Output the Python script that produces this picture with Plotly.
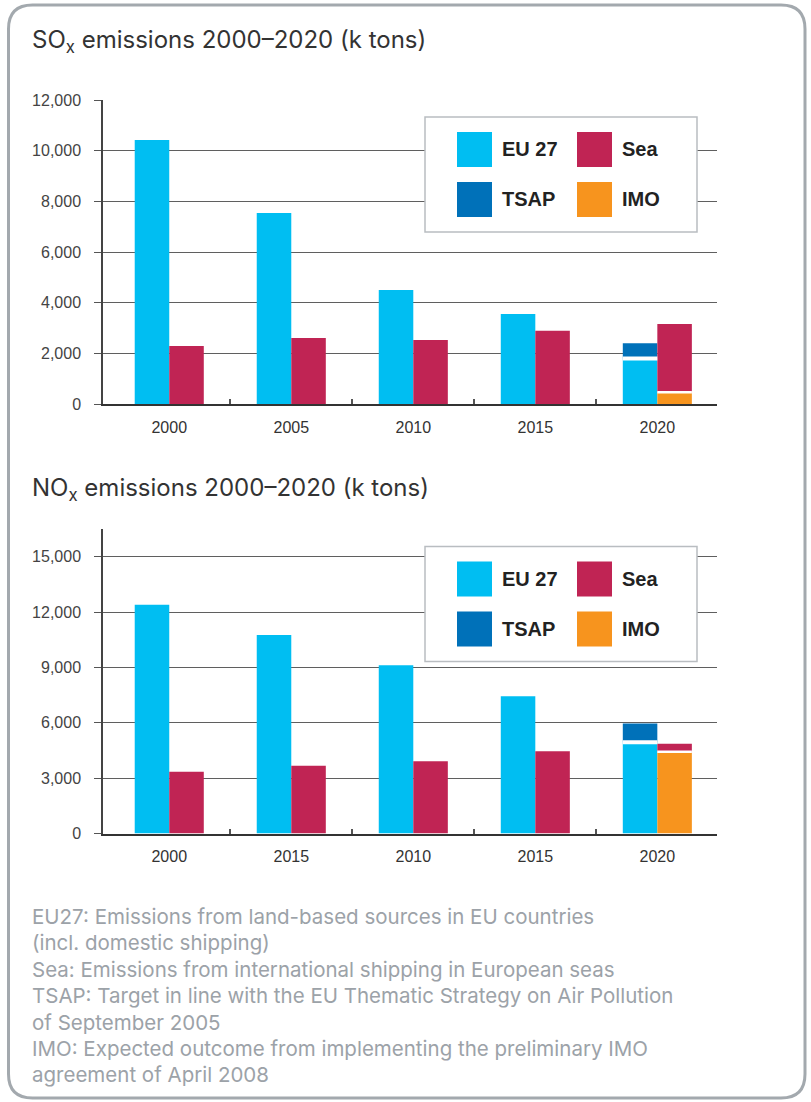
import plotly.graph_objects as go

# ---------------- data ----------------
sox_years = ["2000", "2005", "2010", "2015", "2020"]
sox_eu27 = [10420, 7540, 4500, 3550, 1800]
sox_sea = [2290, 2605, 2530, 2890, 3160]
sox_tsap = [None, None, None, None, 2400]
sox_imo = [None, None, None, None, 460]

nox_years = ["2000", "2015", "2010", "2015", "2020"]
nox_eu27 = [12390, 10760, 9120, 7440, 4950]
nox_sea = [3340, 3670, 3920, 4460, 4870]
nox_tsap = [None, None, None, None, 5960]
nox_imo = [None, None, None, None, 4430]

sox_ticks = [0, 2000, 4000, 6000, 8000, 10000, 12000]
nox_ticks = [0, 3000, 6000, 9000, 12000, 15000]

legend_labels = [["EU 27", "Sea"], ["TSAP", "IMO"]]

footnotes = [
    "EU27: Emissions from land-based sources in EU countries",
    "(incl. domestic shipping)",
    "Sea: Emissions from international shipping in European seas",
    "TSAP: Target in line with the EU Thematic Strategy on Air Pollution",
    "of September 2005",
    "IMO: Expected outcome from implementing the preliminary IMO",
    "agreement of April 2008",
]

# ---------------- style ----------------
W, H = 811, 1102
C_EU = "#00BEF2"
C_SEA = "#C02454"
C_TSAP = "#0071B9"
C_IMO = "#F7941E"
FONT = "Liberation Sans, Arial, sans-serif"
TFONT = "Inter, Liberation Sans, sans-serif"
BW = 0.283  # bar width (axis units)


def px(x):
    return x / W


def py(y):
    return 1 - y / H


fig = go.Figure()


def add_panel(xa, ya, eu, sea, tsap, imo):
    n = len(eu)
    xs = list(range(n))
    imo_base = [v if v is not None else 0 for v in imo]
    sea_seg = [s - b for s, b in zip(sea, imo_base)]
    fig.add_trace(go.Bar(x=xs, y=eu, width=BW, offset=-BW, marker_color=C_EU,
                         marker_line_width=0, xaxis=xa, yaxis=ya, name="EU 27"))
    tx = [i for i in xs if tsap[i] is not None]
    fig.add_trace(go.Bar(x=tx, y=[tsap[i] - eu[i] for i in tx], base=[eu[i] for i in tx],
                         width=BW, offset=-BW, marker_color=C_TSAP, marker_line_width=0,
                         xaxis=xa, yaxis=ya, name="TSAP"))
    ix = [i for i in xs if imo[i] is not None]
    fig.add_trace(go.Bar(x=ix, y=[imo[i] for i in ix], width=BW, offset=0,
                         marker_color=C_IMO, marker_line_width=0,
                         xaxis=xa, yaxis=ya, name="IMO"))
    fig.add_trace(go.Bar(x=xs, y=sea_seg, base=imo_base, width=BW, offset=0,
                         marker_color=C_SEA, marker_line_width=0,
                         xaxis=xa, yaxis=ya, name="Sea"))
    for i in tx:
        fig.add_shape(type="line", xref=xa, yref=ya, x0=i - BW, x1=i, y0=eu[i], y1=eu[i],
                      line=dict(color="white", width=4), layer="above")
    for i in ix:
        fig.add_shape(type="line", xref=xa, yref=ya, x0=i, x1=i + BW, y0=imo[i], y1=imo[i],
                      line=dict(color="white", width=2.5), layer="above")


add_panel("x", "y", sox_eu27, sox_sea, sox_tsap, sox_imo)
add_panel("x2", "y2", nox_eu27, nox_sea, nox_tsap, nox_imo)

xrange = [-0.543, 4.489]
xcommon = dict(
    range=xrange, showgrid=False, zeroline=False, showline=True, linecolor="#333",
    linewidth=1.5, ticks="", tickmode="array", automargin=False,
    tickfont=dict(family=FONT, size=16, color="#333"), ticklabelstandoff=8,
    minor=dict(tickmode="array", tickvals=[i + 0.5 for i in range(4)], ticks="inside",
               ticklen=5, tickcolor="#555", tickwidth=1.5),
    fixedrange=True,
)
ycommon = dict(
    showgrid=True, gridcolor="#5f5f5f", gridwidth=1.4, zeroline=False, showline=True,
    linecolor="#444", linewidth=1.5, ticks="outside", ticklen=7, tickcolor="#555",
    tickwidth=1.2, tickformat=",", tickmode="array", automargin=False,
    tickfont=dict(family=FONT, size=16, color="#444"), ticklabelstandoff=10,
    fixedrange=True,
)

fig.update_layout(
    width=W, height=H, margin=dict(l=0, r=0, t=0, b=0, pad=0, autoexpand=False),
    paper_bgcolor="white", plot_bgcolor="white", showlegend=False,
    barmode="overlay",
    xaxis=dict(domain=[px(103), px(717)], anchor="y", tickvals=list(range(5)),
               ticktext=sox_years, **xcommon),
    yaxis=dict(domain=[py(404), py(100)], anchor="x", range=[0, 12000],
               tickvals=sox_ticks, **ycommon),
    xaxis2=dict(domain=[px(103), px(717)], anchor="y2", tickvals=list(range(5)),
                ticktext=nox_years, **xcommon),
    yaxis2=dict(domain=[py(833.5), py(529)], anchor="x2", range=[0, 16500],
                tickvals=nox_ticks, **ycommon),
)

# ---------------- outer rounded frame ----------------
x0f, y0f, x1f, y1f, r = 8.5, 5, 805, 1098, 24
path = (f"M {px(x0f + r)},{py(y0f)} L {px(x1f - r)},{py(y0f)} "
        f"Q {px(x1f)},{py(y0f)} {px(x1f)},{py(y0f + r)} "
        f"L {px(x1f)},{py(y1f - r)} Q {px(x1f)},{py(y1f)} {px(x1f - r)},{py(y1f)} "
        f"L {px(x0f + r)},{py(y1f)} Q {px(x0f)},{py(y1f)} {px(x0f)},{py(y1f - r)} "
        f"L {px(x0f)},{py(y0f + r)} Q {px(x0f)},{py(y0f)} {px(x0f + r)},{py(y0f)} Z")
fig.add_shape(type="path", xref="paper", yref="paper", path=path,
              line=dict(color="#A3A9AE", width=3), layer="below")

# ---------------- titles ----------------
titles = [("SO<sub>x</sub> emissions 2000–2020 (k tons)", 41),
          ("NO<sub>x</sub> emissions 2000–2020 (k tons)", 489)]
for text, yc in titles:
    fig.add_annotation(xref="paper", yref="paper", x=px(30), y=py(yc), xanchor="left",
                       yanchor="middle", showarrow=False, text=text,
                       font=dict(family=TFONT, size=24, color="#333"))

# ---------------- legends ----------------
sw_colors = [[C_EU, C_SEA], [C_TSAP, C_IMO]]
for top in (117, 546.5):
    fig.add_shape(type="rect", xref="paper", yref="paper", x0=px(425), x1=px(697),
                  y0=py(top), y1=py(top + 115), fillcolor="white",
                  line=dict(color="#B9BDC1", width=1.5), layer="above")
    for r_i in range(2):
        for c_i in range(2):
            sx = 457 + 120 * c_i
            sy = top + 15 + 50 * r_i
            fig.add_shape(type="rect", xref="paper", yref="paper", x0=px(sx), x1=px(sx + 35),
                          y0=py(sy), y1=py(sy + 35), fillcolor=sw_colors[r_i][c_i],
                          line=dict(width=0), layer="above")
            fig.add_annotation(xref="paper", yref="paper", x=px(sx + 43), y=py(sy + 17.5),
                               xanchor="left", yanchor="middle", showarrow=False,
                               text=f"<b>{legend_labels[r_i][c_i]}</b>",
                               font=dict(family=FONT, size=20, color="#222"))

# ---------------- footnotes ----------------
for k, line in enumerate(footnotes):
    fig.add_annotation(xref="paper", yref="paper", x=px(30), y=py(916.5 + 26.4 * k),
                       xanchor="left", yanchor="middle", showarrow=False, text=line,
                       font=dict(family=TFONT, size=20.5, color="#9CA2A8"))

fig.write_html("out.html", config={"displayModeBar": False},
               post_script="document.body.style.margin='0';")
